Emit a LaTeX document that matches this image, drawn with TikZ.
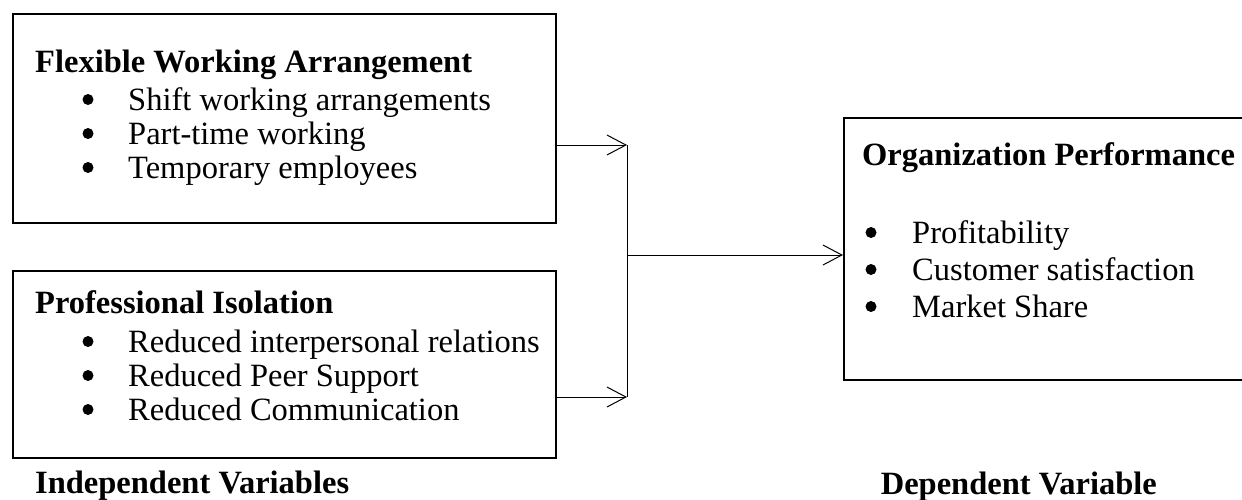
\documentclass[tikz,border=0pt]{standalone}
\usepackage{fontspec}
\setmainfont{Liberation Serif}
\usetikzlibrary{arrows.meta}
\begin{document}
\begin{tikzpicture}[x=1pt,y=-1pt,
  box/.style={draw,line width=1.6pt,inner sep=0pt,anchor=north west},
  conn/.style={line width=1pt},
  arr/.style={conn,-{Straight Barb[length=19pt,width=20pt,line width=1pt]}},
  ttl/.style={anchor=base west,inner sep=0pt,font=\fontsize{32.5}{38}\selectfont\bfseries},
  itm/.style={anchor=base west,inner sep=0pt,font=\fontsize{32.5}{38}\selectfont},
  dot/.style={fill=black}]
\useasboundingbox (0,0) rectangle (1242,499);
\clip (0,0) rectangle (1242,499);
% boxes
\node[box,minimum width=543pt,minimum height=209pt] (b1) at (12,13) {};
\node[box,minimum width=543pt,minimum height=187pt] (b2) at (12,270) {};
\node[box,minimum width=440pt,minimum height=262pt] (b3) at (843,117) {};
% box 1 text
\node[ttl] (t1) at (35,72) {Flexible Working Arrangement};
\node[itm] (t1a) at (128,110) {Shift working arrangements};
\node[itm] (t1b) at (128,144) {Part-time working};
\node[itm] (t1c) at (128,178) {Temporary employees};
\foreach \y in {110,144,178} \fill[dot] (88,\y-10.5) circle (5.5pt);
% box 2 text
\node[ttl] (t2) at (35,313) {Professional Isolation};
\node[itm] (t2a) at (128,352) {Reduced interpersonal relations};
\node[itm] (t2b) at (128,386) {Reduced Peer Support};
\node[itm] (t2c) at (128,420) {Reduced Communication};
\foreach \y in {352,386,420} \fill[dot] (88,\y-10.5) circle (5.5pt);
% box 3 text
\node[ttl] (t3) at (862,165) {Organization Performance};
\node[itm] (t3a) at (912,243) {Profitability};
\node[itm] (t3b) at (912,280) {Customer satisfaction};
\node[itm] (t3c) at (912,317) {Market Share};
\foreach \y in {243,280,317} \fill[dot] (871,\y-10.5) circle (5.5pt);
% labels
\node[ttl] (l1) at (35,493) {Independent Variables};
\node[ttl,anchor=base east] (l2) at (1157,494) {Dependent Variable};
% connectors
\coordinate (j1) at (627,145);
\coordinate (j2) at (627,397);
\coordinate (j3) at (627,255);
\draw[arr] (b1.east |- j1) -- (j1);
\draw[arr] (b2.east |- j2) -- (j2);
\draw[conn] (j1) -- (j2);
\draw[arr] (j3) -- (b3.west |- j3);
\end{tikzpicture}
\end{document}
